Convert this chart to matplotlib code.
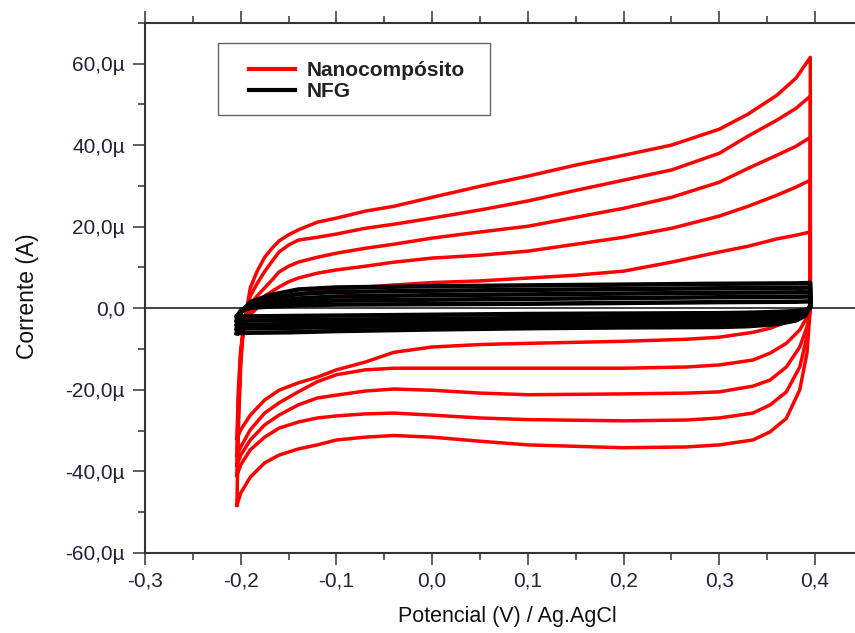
import matplotlib.pyplot as plt
from matplotlib.ticker import MultipleLocator, FuncFormatter
from matplotlib.patches import Rectangle

plt.rcParams['font.family'] = ['Liberation Sans', 'DejaVu Sans']

# potencial (V) - ramo anodico e catodico do nanocompósito
E_ANOD = [-0.204, -0.2025, -0.2, -0.197, -0.193, -0.19, -0.183, -0.175, -0.167, -0.16, -0.15, -0.14, -0.12,
          -0.10, -0.07, -0.04, 0.0, 0.05, 0.10, 0.15, 0.20, 0.25, 0.30, 0.33, 0.36, 0.38, 0.395]
E_CATOD = [0.395, 0.3915, 0.384, 0.37, 0.353, 0.335, 0.30, 0.266, 0.20, 0.10, 0.05, 0.0,
           -0.04, -0.07, -0.10, -0.12, -0.14, -0.16, -0.175, -0.19, -0.2, -0.204]

# corrente (uA), uma lista por velocidade de varredura
NANO_ANOD = [
    [-48.3, -30, -14, -4, 0.8, 5.0, 9.0, 12.5, 14.8, 16.5, 18.0, 19.2, 21.1, 22.1, 23.8, 25.0, 27.2, 29.9, 32.4, 35.1, 37.5, 40.0, 43.9, 47.6, 52.2, 56.4, 61.5],
    [-41, -26, -12, -4, -0.5, 3.0, 6.0, 9.0, 11.6, 13.8, 15.5, 16.7, 17.4, 18.2, 19.6, 20.6, 22.1, 24.1, 26.3, 28.9, 31.4, 33.9, 38.0, 42.2, 46.1, 49.0, 52.0],
    [-38.5, -25, -12, -4, -1, 1.0, 3.0, 5.0, 7.0, 8.9, 10.3, 11.3, 12.5, 13.5, 14.7, 15.7, 17.2, 18.7, 20.1, 22.3, 24.5, 27.2, 30.9, 34.3, 37.5, 39.7, 41.9],
    [-36, -22, -11, -5, -2, -0.5, 1.3, 3.0, 4.2, 5.2, 6.5, 7.4, 8.6, 9.4, 10.3, 11.3, 12.3, 13.0, 14.0, 15.7, 17.4, 19.6, 22.6, 25.0, 27.7, 29.7, 31.4],
    [-32, -20, -10, -5, -2.5, -1.5, 0.0, 1.5, 2.0, 2.5, 3.0, 3.4, 4.0, 4.5, 5.2, 5.7, 6.3, 6.7, 7.4, 8.1, 9.1, 11.3, 13.8, 15.2, 17.0, 17.9, 18.7],
]
NANO_CATOD = [
    [0, -11, -20, -27, -30.3, -32.3, -33.5, -34, -34.2, -33.5, -32.6, -31.6, -31.2, -31.6, -32.3, -33.5, -34.5, -36, -37.9, -41.4, -45.3, -48.3],
    [0, -7, -14.4, -20.5, -23.7, -25.7, -26.9, -27.4, -27.6, -27.3, -26.9, -26.2, -25.7, -25.9, -26.4, -26.9, -27.9, -29.4, -31.6, -34.7, -38.4, -41],
    [0, -4.6, -9.5, -14.4, -17.6, -19.1, -20.5, -20.8, -21, -21.2, -20.8, -20.1, -19.8, -20.3, -21.3, -22, -23.7, -26.2, -28.6, -32.3, -36, -38.5],
    [0, -2.2, -5.3, -8.6, -11, -12.7, -13.9, -14.4, -14.7, -14.7, -14.7, -14.7, -14.7, -15.1, -16.3, -18, -20.5, -23.2, -25.7, -29.8, -34, -36],
    [0, -0.5, -1.6, -3.4, -4.9, -5.9, -7.1, -7.6, -8.1, -8.6, -8.9, -9.5, -10.8, -13.2, -15.1, -16.9, -18.3, -20.1, -22.5, -26.2, -29.8, -32],
]

# NFG
E_ANOD_NFG = [-0.204, -0.2, -0.19, -0.17, -0.14, -0.1, 0.0, 0.1, 0.2, 0.3, 0.38, 0.395]
E_CATOD_NFG = [0.395, 0.39, 0.38, 0.36, 0.33, 0.3, 0.2, 0.1, 0.0, -0.1, -0.15, -0.19, -0.2, -0.204]
NFG_ANOD = [
    [-6.1, -1.0, 1.5, 3.2, 4.6, 5.1, 5.4, 5.6, 5.8, 6.0, 6.1, 6.2],
    [-5.0, -1.0, 1.0, 2.3, 3.5, 4.0, 4.3, 4.5, 4.7, 4.9, 5.0, 5.1],
    [-4.0, -0.9, 0.6, 1.5, 2.4, 2.9, 3.2, 3.4, 3.6, 3.8, 3.9, 4.0],
    [-3.0, -0.8, 0.3, 0.9, 1.5, 1.9, 2.1, 2.3, 2.5, 2.7, 2.8, 2.9],
    [-2.0, -0.6, 0.1, 0.4, 0.7, 0.9, 1.0, 1.1, 1.3, 1.5, 1.6, 1.7],
]
NFG_CATOD = [
    [0.8, -1.8, -3.0, -3.9, -4.4, -4.6, -4.7, -4.9, -5.2, -5.6, -5.9, -6.0, -6.1, -6.1],
    [0.5, -1.4, -2.4, -3.1, -3.5, -3.7, -3.8, -4.0, -4.3, -4.6, -4.8, -4.9, -5.0, -5.0],
    [0.3, -1.0, -1.8, -2.4, -2.7, -2.9, -3.0, -3.2, -3.4, -3.7, -3.9, -4.0, -4.0, -4.0],
    [0.2, -0.7, -1.2, -1.6, -1.9, -2.1, -2.2, -2.4, -2.6, -2.8, -2.9, -3.0, -3.0, -3.0],
    [0.1, -0.4, -0.7, -0.9, -1.1, -1.2, -1.3, -1.4, -1.6, -1.8, -1.9, -2.0, -2.0, -2.0],
]

fig = plt.figure(figsize=(8.55, 6.33), dpi=100)
ax = fig.add_axes([0.1696, 0.1264, 0.8304, 0.8377])

ax.axhline(0, color='#333333', lw=1.3, zorder=1.5)

for ia, ic in zip(NANO_ANOD, NANO_CATOD):
    corrente = [v * 1e-6 for v in ia + ic]
    red, = ax.plot(E_ANOD + E_CATOD, corrente, color='#ff0000', lw=2.5, zorder=2)

for ia, ic in zip(NFG_ANOD, NFG_CATOD):
    corrente = [v * 1e-6 for v in ia + ic]
    black, = ax.plot(E_ANOD_NFG + E_CATOD_NFG, corrente, color='black', lw=3.2, zorder=2.5)

ax.set_xlim(-0.3, 0.4417)
ax.set_ylim(-60e-6, 70e-6)

ax.xaxis.set_major_locator(MultipleLocator(0.1))
ax.xaxis.set_minor_locator(MultipleLocator(0.05))
ax.yaxis.set_major_locator(MultipleLocator(20e-6))
ax.yaxis.set_minor_locator(MultipleLocator(10e-6))


def fmt_x(v, pos):
    return ('%.1f' % (round(v, 2) + 0.0)).replace('.', ',')


def fmt_y(v, pos):
    v = round(v * 1e6, 1)
    if v == 0:
        return '0,0'
    return ('%.1fµ' % v).replace('.', ',')


ax.xaxis.set_major_formatter(FuncFormatter(fmt_x))
ax.yaxis.set_major_formatter(FuncFormatter(fmt_y))

ax.tick_params(which='both', direction='out', color='#333333', width=1.1,
               labelsize=15, labelcolor='#22223a', top=True, labeltop=False)
ax.tick_params(which='major', length=8.5)
ax.tick_params(which='minor', length=5)
ax.tick_params(axis='x', pad=5)
ax.tick_params(axis='y', pad=6)

ax.spines['right'].set_visible(False)
for s in ['left', 'bottom', 'top']:
    ax.spines[s].set_linewidth(1.5)
    ax.spines[s].set_color('#333333')

ax.set_xlabel('Potencial (V) / Ag.AgCl', fontsize=15.5, color='#111111')
ax.xaxis.set_label_coords(0.5106, -0.10)
ax.set_ylabel('Corrente (A)', fontsize=16.5, color='#111111', va='center')
ax.yaxis.set_label_coords(-0.165, 0.485)

# legenda
ax.add_patch(Rectangle((0.1028, 0.8259), 0.3831, 0.1358, transform=ax.transAxes,
                       facecolor='white', edgecolor='#666666', lw=1.0, zorder=4))
leg = ax.legend([red, black], ['Nanocompósito', 'NFG'], frameon=False,
                loc='upper left', bbox_to_anchor=(0.1324, 0.947), borderpad=0,
                handlelength=2.2, handletextpad=0.55, labelspacing=0.1,
                prop={'weight': 'bold', 'size': 15})
leg.set_zorder(5)
for line in leg.get_lines():
    line.set_linewidth(3.0)
for t in leg.get_texts():
    t.set_color('#222222')

fig.savefig('out.png', dpi=100)
